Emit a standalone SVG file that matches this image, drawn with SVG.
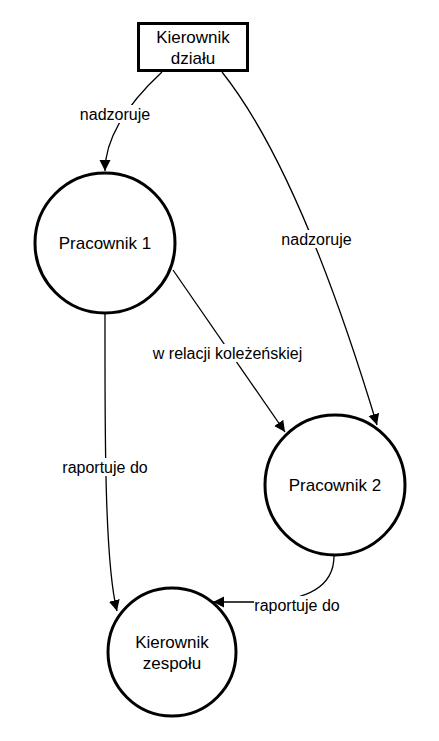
<svg xmlns="http://www.w3.org/2000/svg" width="439" height="741" viewBox="0 0 439 741">
<style>
.node{fill:#fff;stroke:#000;stroke-width:3}
.edge{fill:none;stroke:#000;stroke-width:1.3;marker-end:url(#arrow)}
.nl{font-family:"Liberation Sans",Arial,sans-serif;font-size:17px;fill:#000;text-anchor:middle}
.el{font-family:"Liberation Sans",Arial,sans-serif;font-size:16px;fill:#000;text-anchor:middle}
.bg{fill:#fff}
</style>
<defs>
<marker id="arrow" markerUnits="userSpaceOnUse" markerWidth="12" markerHeight="12" viewBox="0 0 12 12" refX="11" refY="6" orient="auto">
<path d="M0,0.5 L11,6 L0,11.5 z" fill="#000"/>
</marker>
</defs>
<rect width="439" height="741" fill="#fff"/>
<g id="connectors">
<g id="e1">
<path class="edge" d="M162,72 Q105,125 105,171"/>
<rect class="bg" x="80" y="105" width="70" height="18"/>
<text class="el" x="115" y="119.5">nadzoruje</text>
</g>
<g id="e2">
<path class="edge" d="M222,72 Q300,170 377,425"/>
<rect class="bg" x="281" y="230" width="71" height="18"/>
<text class="el" x="316.5" y="244.5">nadzoruje</text>
</g>
<g id="e3">
<path class="edge" d="M173,270 L285,432"/>
<rect class="bg" x="152" y="344" width="151" height="18"/>
<text class="el" x="227.5" y="358.5">w relacji koleżeńskiej</text>
</g>
<g id="e4">
<path class="edge" d="M105,313 C105,420 104,560 117,611"/>
<rect class="bg" x="62" y="458" width="86" height="18"/>
<text class="el" x="105" y="472.5">raportuje do</text>
</g>
<g id="e5">
<path class="edge" d="M334,556 C334,590 300,601 260,602 L213,602"/>
<rect class="bg" x="254" y="596" width="86" height="18"/>
<text class="el" x="297" y="610.5">raportuje do</text>
</g>
</g>
<g id="kierownik-dzialu">
<rect class="node" x="138.5" y="23.5" width="109" height="47"/>
<text class="nl" x="193" y="43">Kierownik</text>
<text class="nl" x="193" y="63.5">działu</text>
</g>
<g id="pracownik-1">
<circle class="node" cx="105" cy="243" r="70"/>
<text class="nl" x="105" y="249">Pracownik 1</text>
</g>
<g id="pracownik-2">
<circle class="node" cx="335" cy="485" r="70"/>
<text class="nl" x="335" y="490.5">Pracownik 2</text>
</g>
<g id="kierownik-zespolu">
<circle class="node" cx="172" cy="652" r="64"/>
<text class="nl" x="172" y="648">Kierownik</text>
<text class="nl" x="172" y="668.5">zespołu</text>
</g>
</svg>
